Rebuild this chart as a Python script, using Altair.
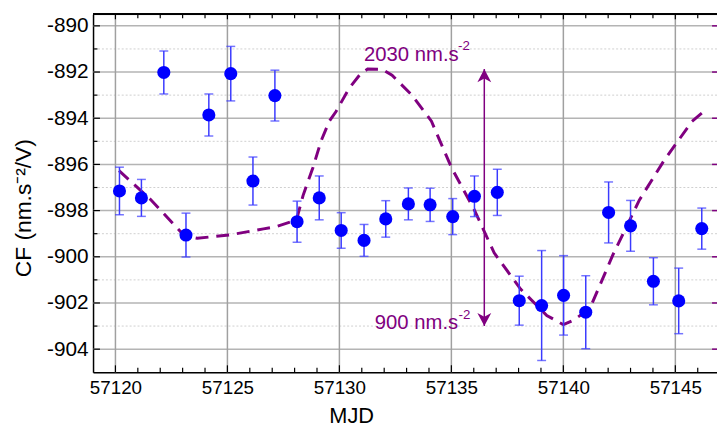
import altair as alt
import pandas as pd

# ---- data ----
mjd = [57120.18, 57121.16, 57122.16, 57123.15, 57124.17, 57125.15, 57126.14,
       57127.12, 57128.11, 57129.10, 57130.08, 57131.10, 57132.07, 57133.08,
       57134.05, 57135.06, 57136.03, 57137.05, 57138.03, 57139.03, 57140.01,
       57141.00, 57142.02, 57143.00, 57144.02, 57145.15, 57146.18]
cf = [-897.15, -897.45, -892.02, -899.06, -893.86, -892.07, -896.72,
      -893.02, -898.48, -897.45, -898.86, -899.29, -898.36, -897.71,
      -897.75, -898.26, -897.38, -897.21, -901.90, -902.11, -901.67,
      -902.40, -898.08, -898.66, -901.06, -901.91, -898.78]
err = [1.03, 0.80, 0.93, 0.95, 0.91, 1.18, 1.04, 1.10, 0.89, 0.95, 0.77,
       0.69, 0.79, 0.69, 0.72, 0.78, 0.88, 1.00, 1.06, 2.38, 1.72, 1.58,
       1.32, 1.10, 1.02, 1.42, 0.89]

curve_x = [57120.16, 57121.60, 57123.08, 57123.66, 57125.12, 57126.61, 57127.20,
           57128.08, 57128.38, 57128.82, 57129.18, 57129.55, 57129.85, 57130.43,
           57130.95, 57131.26, 57131.91, 57132.35, 57133.23, 57134.11, 57135.00,
           57136.03, 57136.91, 57138.09, 57139.26, 57140.00, 57140.44, 57141.18,
           57142.21, 57143.39, 57144.49, 57145.74, 57146.18]
curve_y = [-896.27, -897.55, -899.09, -899.20, -899.05, -898.79, -898.69,
           -898.41, -897.34, -896.13, -894.99, -894.13, -893.71, -892.71,
           -892.07, -891.87, -891.88, -892.14, -892.99, -894.13, -896.13,
           -897.98, -899.83, -901.40, -902.54, -902.94, -902.75, -902.25,
           -899.92, -897.55, -895.84, -894.14, -893.78]

arrow_x = [57136.47, 57136.47]
arrow_y = [-891.87, -903.00]

ann_label = ["2030 nm.s", "900 nm.s"]
ann_x = [57131.10, 57131.58]
ann_y = [-891.53, -903.11]
sup_label = ["-2", "-2"]
sup_x = [57135.30, 57135.32]
sup_y = [-891.06, -902.68]

x_major = [57120, 57125, 57130, 57135, 57140, 57145]
x_minor = [v for v in range(57120, 57147) if v % 5 != 0]
y_major = [-904, -902, -900, -898, -896, -894, -892, -890]
y_minor = [-903, -901, -899, -897, -895, -893, -891]

# ---- layout ----
W, H = 631, 362
FONT = "Liberation Sans"
PURPLE = "#800080"
xs = alt.Scale(domain=[57119, 57146.86], nice=False, zero=False)
ys = alt.Scale(domain=[-905, -889.5], nice=False, zero=False)

xaxis = alt.Axis(
    orient="bottom", values=x_major, format="d", grid=False, ticks=False,
    domainColor="black", domainWidth=1.5, labelFontSize=19, labelPadding=6,
    labelColor="black", title="MJD", titleFontSize=22, titleFontWeight="normal",
    titleColor="black", titleX=261, titleY=44, titleAlign="center", titleBaseline="middle")
yaxis = alt.Axis(
    orient="left", values=y_major, labelExpr="'-' + format(-datum.value, 'd')",
    grid=False, ticks=False,
    domainColor="black", domainWidth=1.5, labelFontSize=21, labelPadding=5,
    labelColor="black", title="CF (nm.s⁻²/V)", titleFontSize=23, titleFontWeight="normal",
    titleColor="black", titleX=-70, titleY=195.5, titleAngle=270, titleAlign="center",
    titleBaseline="middle")

pts = pd.DataFrame({"x": mjd, "y": cf, "e": err})
pts["lo"] = pts["y"] - pts["e"]
pts["hi"] = pts["y"] + pts["e"]
curve = pd.DataFrame({"x": curve_x, "y": curve_y})
xmaj = pd.DataFrame({"v": x_major})
xmin = pd.DataFrame({"v": x_minor})
ymaj = pd.DataFrame({"v": y_major})
ymin = pd.DataFrame({"v": y_minor})
arrow = pd.DataFrame({"x": [arrow_x[0]], "y": [arrow_y[0]], "y2": [arrow_y[1]]})
head_top = pd.DataFrame({"x": [arrow_x[0]], "y": [arrow_y[0]]})
head_bot = pd.DataFrame({"x": [arrow_x[1]], "y": [arrow_y[1]]})
ann = pd.DataFrame({"t": ann_label, "x": ann_x, "y": ann_y})
sup = pd.DataFrame({"t": sup_label, "x": sup_x, "y": sup_y})

X = lambda f: alt.X(f, type="quantitative", scale=xs, axis=xaxis)
Y = lambda f: alt.Y(f, type="quantitative", scale=ys, axis=yaxis)

# grid
grid_minor = alt.Chart(ymin).mark_rule(color="#cfcfcf", strokeWidth=1, strokeDash=[2, 2]).encode(y=Y("v"))
grid_ymaj = alt.Chart(ymaj).mark_rule(color="#b4b4b4", strokeWidth=1.5).encode(y=Y("v"))
grid_xmaj = alt.Chart(xmaj).mark_rule(color="#a0a0a0", strokeWidth=1.5).encode(x=X("v"))

line = alt.Chart(curve).mark_line(color=PURPLE, strokeWidth=3, strokeDash=[13, 8]).encode(
    x=X("x"), y=Y("y"), order=alt.Order("x:Q"))

ebar = alt.Chart(pts).mark_rule(color="#3a3aff", strokeWidth=1.5).encode(x=X("x"), y=Y("lo"), y2="hi")
cap_lo = alt.Chart(pts).mark_tick(color="#3a3aff", orient="horizontal", size=9, thickness=1.5).encode(x=X("x"), y=Y("lo"))
cap_hi = alt.Chart(pts).mark_tick(color="#3a3aff", orient="horizontal", size=9, thickness=1.5).encode(x=X("x"), y=Y("hi"))

points = alt.Chart(pts).mark_circle(size=175, color="#0000ff", opacity=1).encode(x=X("x"), y=Y("y"))

arrow_line = alt.Chart(arrow).mark_rule(color=PURPLE, strokeWidth=1.5).encode(x=X("x"), y=Y("y"), y2="y2")
top_head = alt.Chart(head_top).mark_point(shape="M0,0L1,1.9L0,1.35L-1,1.9Z", size=196, filled=True,
                                          color=PURPLE, opacity=1).encode(x=X("x"), y=Y("y"))
bot_head = alt.Chart(head_bot).mark_point(shape="M0,0L1,-1.9L0,-1.35L-1,-1.9Z", size=196, filled=True,
                                          color=PURPLE, opacity=1).encode(x=X("x"), y=Y("y"))

ann_text = alt.Chart(ann).mark_text(align="left", baseline="alphabetic", fontSize=20.5, font=FONT,
                                    color=PURPLE).encode(x=X("x"), y=Y("y"), text="t:N")
sup_text = alt.Chart(sup).mark_text(align="left", baseline="alphabetic", fontSize=13.5, font=FONT,
                                    color=PURPLE).encode(x=X("x"), y=Y("y"), text="t:N")

# frame top line and inward ticks
frame_top = alt.Chart(xmaj).mark_rule(color="black", strokeWidth=1.5).encode(
    y=alt.value(0), x=alt.value(0), x2=alt.value(W))
tk_bot_maj = alt.Chart(xmaj).mark_rule(color="black", strokeWidth=1.2).encode(x=X("v"), y=alt.value(H), y2=alt.value(H - 7))
tk_bot_min = alt.Chart(xmin).mark_rule(color="black", strokeWidth=1.2).encode(x=X("v"), y=alt.value(H), y2=alt.value(H - 4.5))
tk_top_maj = alt.Chart(xmaj).mark_rule(color="black", strokeWidth=1.2).encode(x=X("v"), y=alt.value(0), y2=alt.value(5))
tk_top_min = alt.Chart(xmin).mark_rule(color="black", strokeWidth=1.2).encode(x=X("v"), y=alt.value(0), y2=alt.value(4))
tk_left_maj = alt.Chart(ymaj).mark_rule(color="black", strokeWidth=1.2).encode(y=Y("v"), x=alt.value(0), x2=alt.value(7))
tk_left_min = alt.Chart(ymin).mark_rule(color="black", strokeWidth=1.2).encode(y=Y("v"), x=alt.value(0), x2=alt.value(4.5))
tk_right = alt.Chart(ymaj).mark_rule(color=PURPLE, strokeWidth=1.5).encode(y=Y("v"), x=alt.value(W - 5), x2=alt.value(W))

chart = alt.layer(
    grid_minor, grid_ymaj, grid_xmaj, line, ebar, cap_lo, cap_hi, points,
    arrow_line, top_head, bot_head, ann_text, sup_text, frame_top,
    tk_bot_maj, tk_bot_min, tk_top_maj, tk_top_min, tk_left_maj, tk_left_min, tk_right
).properties(
    width=W, height=H,
    autosize=alt.AutoSizeParams(type="none"),
    padding={"left": 86, "top": 4, "right": 0, "bottom": 54},
).configure_view(stroke=None).configure_axis(
    labelFont=FONT, titleFont=FONT
).configure(background="white")

chart.save("out.html", embed_options={"renderer": "svg", "actions": False})
